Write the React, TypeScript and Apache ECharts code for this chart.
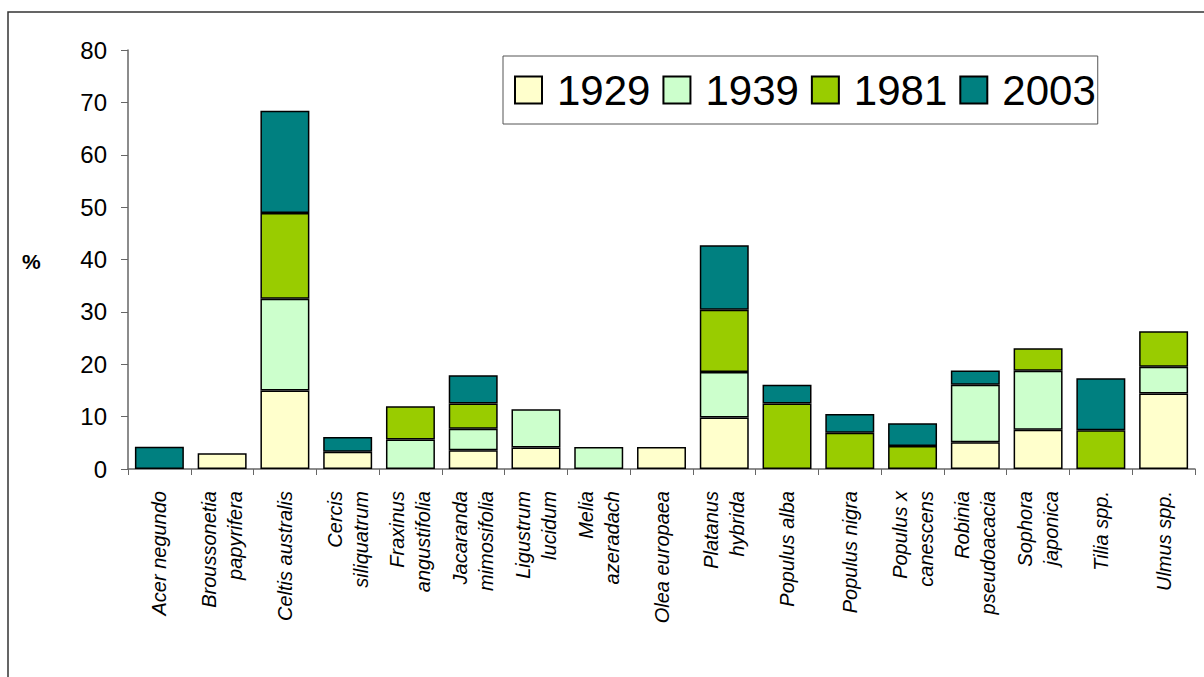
import React, { useEffect, useRef } from "react";
import * as echarts from "echarts";

// Tree species surveyed
const species = [
  "Acer negundo",
  "Broussonetia\npapyrifera",
  "Celtis australis",
  "Cercis\nsiliquatrum",
  "Fraxinus\nangustifolia",
  "Jacaranda\nmimosifolia",
  "Ligustrum\nlucidum",
  "Melia\nazeradach",
  "Olea europaea",
  "Platanus\nhybrida",
  "Populus alba",
  "Populus nigra",
  "Populus x\ncanescens",
  "Robinia\npseudoacacia",
  "Sophora\njaponica",
  "Tilia spp.",
  "Ulmus spp.",
];

// Share (%) per survey year; null = species absent that year
const y1929 = [null, 3.0, 15.0, 3.3, null, 3.6, 4.1, null, 4.2, 9.85, null, null, null, 5.1, 7.5, null, 14.4];
const y1939 = [null, null, 17.5, null, 5.65, 4.1, 7.3, 4.2, null, 8.65, null, null, null, 11.0, 11.25, null, 5.1];
const y1981 = [null, null, 16.4, null, 6.35, 4.8, null, null, null, 11.9, 12.5, 6.9, 4.4, null, 4.3, 7.4, 6.8];
const y2003 = [4.25, null, 19.5, 2.8, null, 5.4, null, null, null, 12.3, 3.6, 3.6, 4.35, 2.7, null, 9.95, null];

const yearNames = ["1929", "1939", "1981", "2003"];
const yearColors = ["#FFFFCC", "#CCFFCC", "#99CC00", "#008080"];
const yTicks = { min: 0, max: 80, interval: 10 };

const FONT = "'Liberation Sans', Arial, Helvetica, sans-serif";

export default function App() {
  const ref = useRef<HTMLDivElement>(null);

  useEffect(() => {
    if (!ref.current) return;
    const chart = echarts.init(ref.current, null, { renderer: "svg" });
    const seriesData = [y1929, y1939, y1981, y2003];

    chart.setOption({
      animation: false,
      backgroundColor: "#ffffff",
      textStyle: { fontFamily: FONT },
      grid: { left: 128, right: 9, top: 50, bottom: 208, containLabel: false },
      legend: {
        left: 503,
        top: 56,
        orient: "horizontal",
        itemWidth: 27,
        itemHeight: 27,
        itemGap: 12,
        padding: [12, 2, 12, 11],
        borderColor: "#555",
        borderWidth: 1,
        icon: "rect",
        textStyle: {
          fontSize: 42,
          lineHeight: 44,
          color: "#000",
          fontFamily: FONT,
          padding: [0, 0, 0, 10],
        },
        data: yearNames,
      },
      xAxis: {
        type: "category",
        data: species,
        axisLine: { lineStyle: { color: "#666", width: 1.5 } },
        axisTick: { show: true, length: 6, alignWithLabel: false, lineStyle: { color: "#666" } },
        axisLabel: {
          interval: 0,
          rotate: 90,
          margin: 22,
          fontSize: 20,
          lineHeight: 26,
          fontStyle: "italic",
          color: "#000",
          fontFamily: FONT,
        },
      },
      yAxis: {
        type: "value",
        min: yTicks.min,
        max: yTicks.max,
        interval: yTicks.interval,
        axisLine: { show: true, lineStyle: { color: "#666", width: 1.5 } },
        axisTick: { show: true, length: 7, lineStyle: { color: "#666" } },
        splitLine: { show: false },
        axisLabel: { fontSize: 24, color: "#000", margin: 21, fontFamily: FONT },
      },
      graphic: [
        {
          type: "rect",
          shape: { x: 8, y: 12, width: 1400, height: 900 },
          style: { fill: "none", stroke: "#333", lineWidth: 1.5 },
          silent: true,
          z: -1,
        },
        {
          type: "text",
          x: 22,
          y: 261,
          style: {
            text: "%",
            fontSize: 21,
            fontWeight: "bold",
            fill: "#000",
            fontFamily: FONT,
            verticalAlign: "middle",
            align: "left",
          },
        },
      ],
      series: yearNames.map((name, i) => ({
        name,
        type: "bar",
        stack: "total",
        barCategoryGap: "22%",
        data: seriesData[i],
        itemStyle: { color: yearColors[i], borderColor: "#000", borderWidth: 1.5 },
      })),
    });

    return () => chart.dispose();
  }, []);

  return (
    <div style={{ position: "fixed", left: 0, top: 0, width: 1204, height: 677, overflow: "hidden", background: "#fff" }}>
      <div ref={ref} style={{ width: 1204, height: 677 }} />
    </div>
  );
}
